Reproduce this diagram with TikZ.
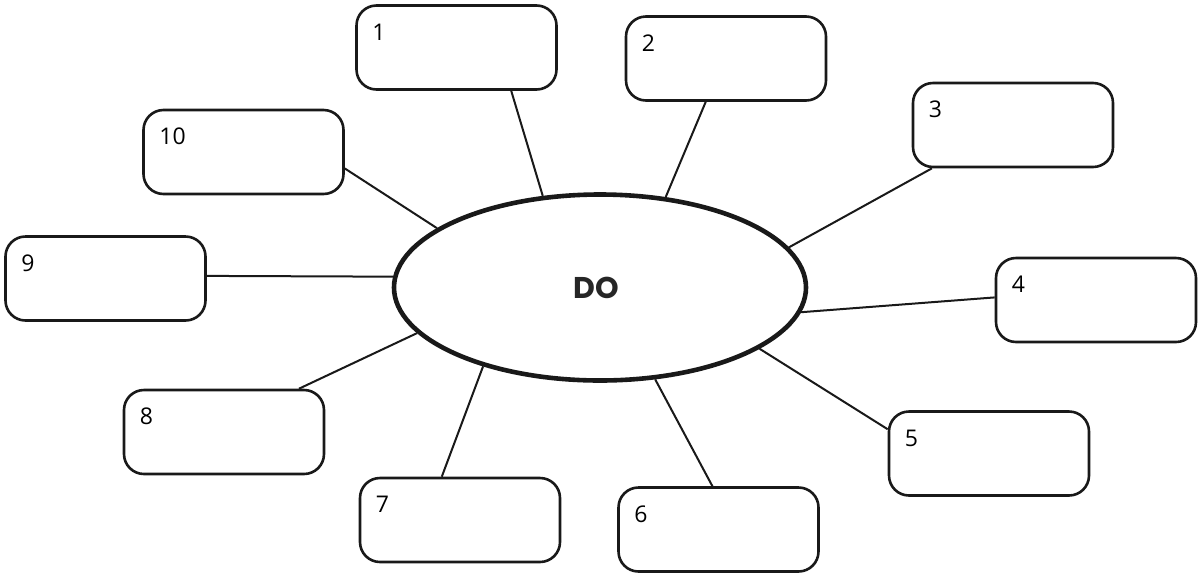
\documentclass[tikz,border=0pt]{standalone}
\usepackage{fontspec}
\setmainfont{Open Sans}
\newfontfamily\titlefont{Poppins}
\usetikzlibrary{shapes.geometric,calc}
\tikzset{
  x=1pt, y=-1pt,
  box/.style={draw=black!90, line width=2.6pt, rounded corners=20pt,
              minimum width=200pt, minimum height=84pt, inner sep=0pt},
  num/.style={anchor=base west, inner sep=0pt, font=\fontsize{23}{26}\selectfont, text=black},
  hub/.style={draw=black!90, line width=4.6pt, ellipse, minimum width=412pt,
              minimum height=186pt, inner sep=0pt,
              font=\titlefont\bfseries\fontsize{30}{36}\selectfont, text=black!85},
  spoke/.style={draw=black!90, line width=2pt}
}
\begin{document}
\begin{tikzpicture}
\useasboundingbox (0,0) rectangle (1198,574);

% central idea
\node[hub] (do) at (600,287.5) {\raisebox{-4pt}{\hspace{-8pt}DO}};

% surrounding boxes
\node[box] (b1)  at (456.5,47.5)  {};
\node[box] (b2)  at (726,58.5)    {};
\node[box] (b3)  at (1013,125)    {};
\node[box] (b4)  at (1096,300)    {};
\node[box] (b5)  at (989,453.5)   {};
\node[box] (b6)  at (718.5,529.5) {};
\node[box] (b7)  at (460,520)     {};
\node[box] (b8)  at (224,432)     {};
\node[box] (b9)  at (105.5,278.5) {};
\node[box] (b10) at (243.5,152)   {};

% numbers
\foreach \i in {1,...,10}{
  \node[num] (n\i) at ($(b\i.north west)+(17,36)$) {\i};
}

% spokes from the boxes to the ellipse
\draw[spoke] ($(b1.south west)!0.77!(b1.south east)$) -- (do.122);
\draw[spoke] ($(b2.south west)!0.40!(b2.south east)$) -- (do.54.6);
\draw[spoke] ($(b3.south west)!0.10!(b3.south east)$) -- (do.12.3);
\draw[spoke] ($(b4.north west)!0.47!(b4.south west)$) -- (do.-7.7);
\draw[spoke] ($(b5.north west)!0.22!(b5.south west)$) -- (do.-21);
\draw[spoke] ($(b6.north west)!0.47!(b6.north east)$) -- (do.-59.8);
\draw[spoke] ($(b7.north west)!0.41!(b7.north east)$) -- (do.214.6);
\draw[spoke] ($(b8.north west)!0.87!(b8.north east)$) -- (do.194.3);
\draw[spoke] ($(b9.north east)!0.47!(b9.south east)$) -- (do.177);
\draw[spoke] ($(b10.north east)!0.69!(b10.south east)$) -- (do.160.2);
\end{tikzpicture}
\end{document}
